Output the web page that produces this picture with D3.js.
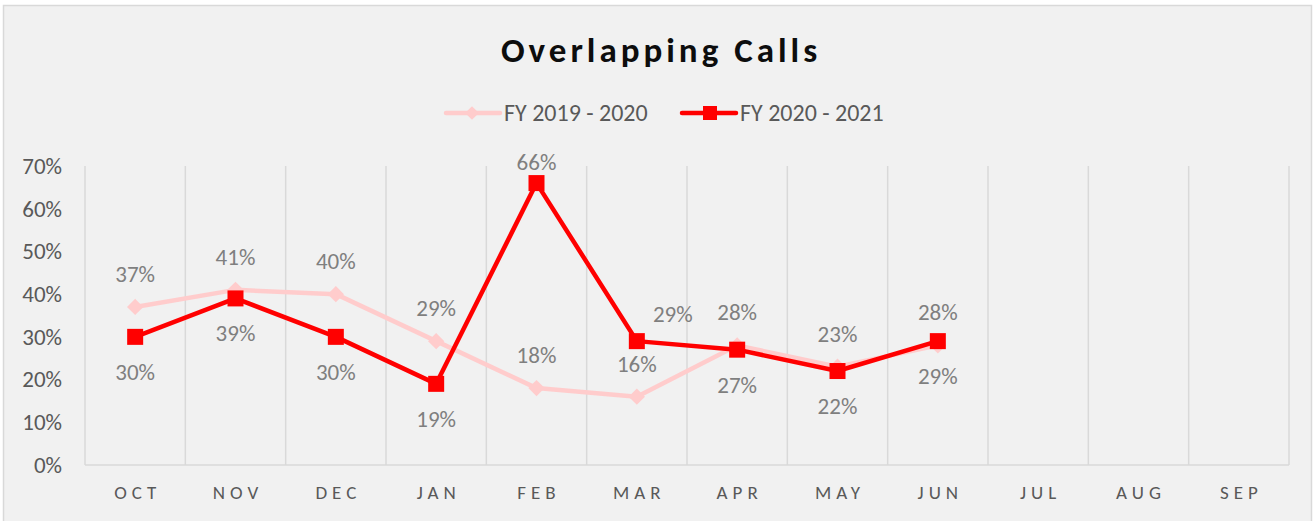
<!DOCTYPE html>
<html>
<head>
<meta charset="utf-8">
<script src="https://cdn.jsdelivr.net/npm/d3@7"></script>
<style>
  html, body { margin: 0; padding: 0; background: #fff; }
  svg { display: block; font-family: Carlito, "Liberation Sans", Arial, sans-serif; }
</style>
</head>
<body>
<div id="chart"></div>
<script>
// chart data
const months = ["OCT", "NOV", "DEC", "JAN", "FEB", "MAR", "APR", "MAY", "JUN", "JUL", "AUG", "SEP"];
const fy2020 = [37, 41, 40, 29, 18, 16, 28, 23, 28];
const fy2021 = [30, 39, 30, 19, 66, 29, 27, 22, 29];
const yTicks = [0, 10, 20, 30, 40, 50, 60, 70];
const seriesNames = ["FY 2019 - 2020", "FY 2020 - 2021"];

const width = 1315, height = 521;
const margin = { top: 166, right: 26, bottom: 56, left: 85 };

const svg = d3.select("#chart")
    .append("svg")
    .attr("width", width)
    .attr("height", height);

// background + border
svg.append("rect")
    .attr("x", 3.5).attr("y", 5.5)
    .attr("width", width - 7).attr("height", height)
    .attr("fill", "#f1f1f1")
    .attr("stroke", "#d9d9d9")
    .attr("stroke-width", 1.5);

svg.append("text")
    .attr("x", 661).attr("y", 62)
    .attr("text-anchor", "middle")
    .attr("font-size", 35)
    .attr("font-weight", "bold")
    .attr("letter-spacing", 4)
    .attr("fill", "#0d0d0d")
    .text("Overlapping Calls");

const xScale = d3.scaleBand()
    .domain(months)
    .range([margin.left, width - margin.right])
    .padding(0);

const yScale = d3.scaleLinear()
    .domain([0, 70])
    .range([height - margin.bottom, margin.top]);

// vertical grid lines at category boundaries
const bounds = months.map(m => xScale(m)).concat([xScale.range()[1]]);
svg.append("g")
    .selectAll("line")
    .data(bounds)
    .join("line")
        .attr("x1", d => d).attr("x2", d => d)
        .attr("y1", yScale(70)).attr("y2", yScale(0))
        .attr("stroke", "#d9d9d9")
        .attr("stroke-width", 1.5);

svg.append("line")
    .attr("x1", xScale.range()[0]).attr("x2", xScale.range()[1])
    .attr("y1", yScale(0)).attr("y2", yScale(0))
    .attr("stroke", "#d9d9d9")
    .attr("stroke-width", 1.5);

// y axis labels
const yAxis = svg.append("g")
    .attr("transform", "translate(" + 62 + ",0)")
    .call(d3.axisLeft(yScale).tickValues(yTicks).tickSize(0).tickPadding(0).tickFormat(d => d + "%"))
    .attr("font-family", null)
    .attr("font-size", 23);
yAxis.select(".domain").remove();
yAxis.selectAll("text")
    .attr("fill", "#595959");

// x axis labels
const xAxis = svg.append("g")
    .attr("transform", "translate(0," + 499 + ")")
    .call(d3.axisBottom(xScale).tickSize(0).tickPadding(0))
    .attr("font-family", null)
    .attr("font-size", 19);
xAxis.select(".domain").remove();
xAxis.selectAll("text")
    .attr("letter-spacing", 5)
    .attr("dx", 2.5)
    .attr("y", 0)
    .attr("dy", 0)
    .attr("fill", "#595959");

const cx = i => xScale(months[i]) + xScale.bandwidth() / 2;
const line = d3.line().x((d, i) => cx(i)).y(d => yScale(d));

const pink = "#ffcccc", red = "#ff0000";

// FY 2019 - 2020
svg.append("path")
    .datum(fy2020)
    .attr("d", line)
    .attr("fill", "none")
    .attr("stroke", pink)
    .attr("stroke-width", 4.5)
    .attr("stroke-linejoin", "round");

svg.append("g")
    .selectAll("path")
    .data(fy2020)
    .join("path")
        .attr("d", d3.symbol(d3.symbolDiamond2, 170))
        .attr("transform", (d, i) => "translate(" + cx(i) + "," + yScale(d) + ")")
        .attr("fill", pink);

// FY 2020 - 2021
svg.append("path")
    .datum(fy2021)
    .attr("d", line)
    .attr("fill", "none")
    .attr("stroke", red)
    .attr("stroke-width", 4.5)
    .attr("stroke-linejoin", "round");

svg.append("g")
    .selectAll("rect")
    .data(fy2021)
    .join("rect")
        .attr("x", (d, i) => cx(i) - 8)
        .attr("y", d => yScale(d) - 8)
        .attr("width", 16).attr("height", 16)
        .attr("fill", red);

// data labels: pink above, red below (a couple placed by hand like the original)
const labelColor = "#7f7f7f";
svg.append("g")
    .selectAll("text")
    .data(fy2020)
    .join("text")
        .attr("x", (d, i) => cx(i))
        .attr("y", d => yScale(d) - 33)
        .attr("dy", "0.35em")
        .attr("text-anchor", "middle")
        .attr("font-size", 23)
        .attr("fill", labelColor)
        .text(d => d + "%");

const redOffset = i => i === 4 ? [0, -21] : i === 5 ? [36, -27] : [0, 35];
svg.append("g")
    .selectAll("text")
    .data(fy2021)
    .join("text")
        .attr("x", (d, i) => cx(i) + redOffset(i)[0])
        .attr("y", (d, i) => yScale(d) + redOffset(i)[1])
        .attr("dy", "0.35em")
        .attr("text-anchor", "middle")
        .attr("font-size", 23)
        .attr("fill", labelColor)
        .text(d => d + "%");

// legend
const legend = svg.append("g").attr("transform", "translate(0,113)");
const legendItems = [
    { name: seriesNames[0], color: pink, x: 446, marker: "diamond" },
    { name: seriesNames[1], color: red, x: 682, marker: "square" }
];
legendItems.forEach(item => {
    const g = legend.append("g").attr("transform", "translate(" + item.x + ",0)");
    g.append("line")
        .attr("x1", 0).attr("x2", 54)
        .attr("stroke", item.color)
        .attr("stroke-width", 4.5)
        .attr("stroke-linecap", "round");
    if (item.marker === "diamond") {
        g.append("path")
            .attr("d", d3.symbol(d3.symbolDiamond2, 120))
            .attr("transform", "translate(26,0)")
            .attr("fill", item.color);
    } else {
        g.append("rect")
            .attr("x", 21).attr("y", -7)
            .attr("width", 14).attr("height", 14)
            .attr("fill", item.color);
    }
    g.append("text")
        .attr("x", 58)
        .attr("dy", "0.35em")
        .attr("font-size", 24)
        .attr("fill", "#595959")
        .text(item.name);
});
</script>
</body>
</html>
